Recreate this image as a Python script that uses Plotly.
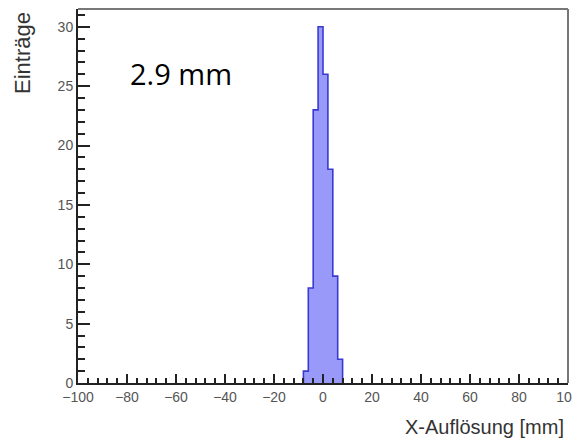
import plotly.graph_objects as go

# Histogram data (ROOT style, bin width 2 mm)
bin_low = -8.0
bin_width = 2.0
counts = [1, 8, 23, 30, 26, 18, 9, 2]

x_ticks = [-100, -80, -60, -40, -20, 0, 20, 40, 60, 80, 100]
y_ticks = [0, 5, 10, 15, 20, 25, 30]
resolution_label = "2.9 mm"
x_title = "X-Auflösung [mm]"
y_title = "Einträge"

# Build step outline from bin edges and counts
edges = [bin_low + i * bin_width for i in range(len(counts) + 1)]
xs = [edges[0]] + edges + [edges[-1]]
ys = [0] + counts + [counts[-1], 0]

fig = go.Figure()
fig.add_trace(go.Scatter(
    x=xs, y=ys, mode="lines", line=dict(shape="hv", color="#3a3ad2", width=1.6),
    fill="tozeroy", fillcolor="#9999fa", hoverinfo="skip", showlegend=False,
))

tick_font = dict(family="Liberation Sans, Arial, sans-serif", size=14, color="#555555")

# page has an 8px body margin; figure size/margins compensate for it
fig.update_layout(
    width=572, height=435,
    margin=dict(l=70, r=12, t=1, b=60, autoexpand=False),
    paper_bgcolor="white", plot_bgcolor="white",
    xaxis=dict(
        range=[-100, 100], tickvals=x_ticks, ticks="inside", ticklen=9, tickwidth=1.5,
        tickcolor="#222222", showgrid=False, zeroline=False, showline=True,
        linecolor="#222222", linewidth=2, tickfont=tick_font, automargin=False,
        minor=dict(tick0=-100, dtick=4, ticks="inside", ticklen=5, tickwidth=1.5,
                   tickcolor="#222222", showgrid=False),
    ),
    yaxis=dict(
        range=[0, 31.5], tickvals=y_ticks, ticks="inside", ticklen=12, tickwidth=1.5,
        tickcolor="#222222", showgrid=False, zeroline=False, showline=True,
        linecolor="#222222", linewidth=2, tickfont=tick_font, automargin=False,
        minor=dict(tick0=0, dtick=1, ticks="inside", ticklen=7, tickwidth=1.5,
                   tickcolor="#222222", showgrid=False),
    ),
    shapes=[
        dict(type="line", xref="paper", yref="paper", x0=0, x1=1, y0=1, y1=1,
             line=dict(color="#777777", width=2)),
        dict(type="line", xref="paper", yref="paper", x0=1, x1=1, y0=0, y1=1,
             line=dict(color="#777777", width=2)),
    ],
    annotations=[
        dict(text=resolution_label, xref="paper", yref="paper", x=(128 - 78) / 490,
             y=(383 - 73) / 374, xanchor="left", yanchor="middle", showarrow=False,
             font=dict(family="Open Sans, sans-serif", size=29, color="black")),
        dict(text=x_title, xref="paper", yref="paper", x=1, y=0, xanchor="right",
             yanchor="middle", xshift=-2, yshift=-44, showarrow=False,
             font=dict(family="Liberation Sans, Arial, sans-serif", size=20, color="#333333")),
        dict(text=y_title, xref="paper", yref="paper", x=0, y=1, xanchor="center",
             yanchor="top", xshift=-56, yshift=-1, textangle=-90, showarrow=False,
             font=dict(family="Liberation Sans, Arial, sans-serif", size=22, color="#333333")),
    ],
)

fig.write_html("out.html")
